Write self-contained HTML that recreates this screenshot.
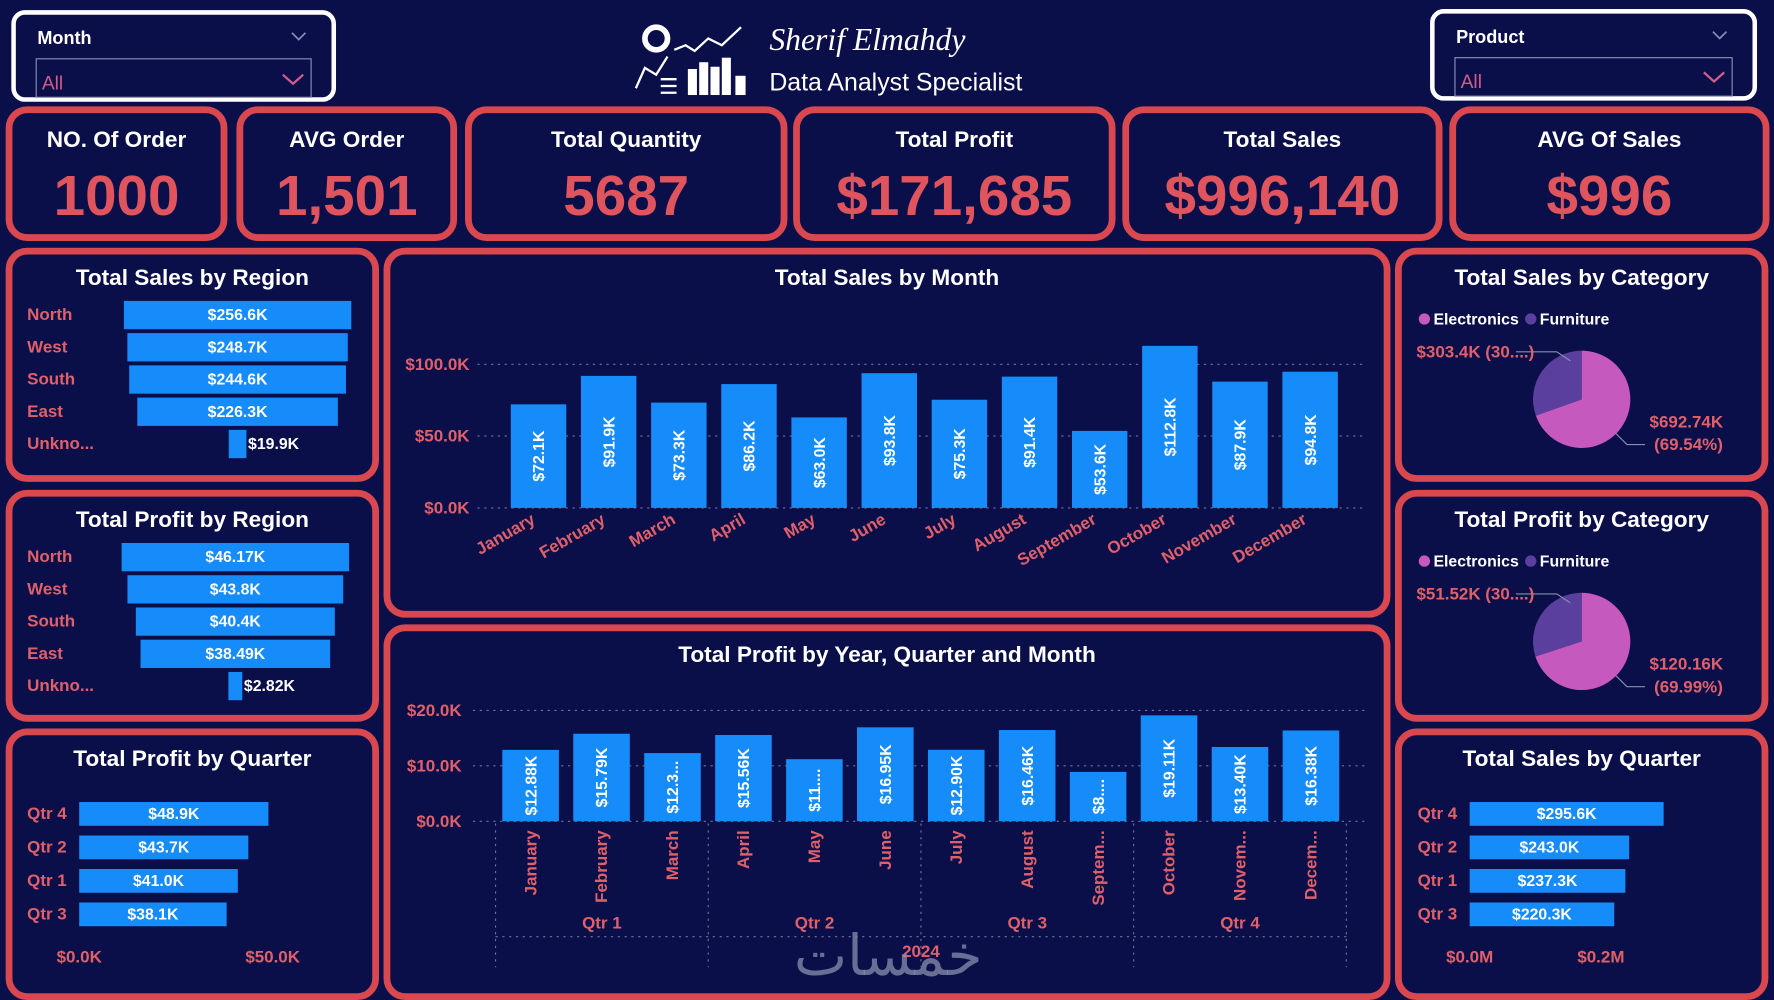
<!DOCTYPE html>
<html><head><meta charset="utf-8"><title>Sales Dashboard</title>
<style>
html,body{margin:0;padding:0;background:#0b0f49;}
svg{display:block;font-family:"Liberation Sans Narrow","Liberation Sans",sans-serif;}
.t{fill:#fff;font-weight:bold;font-size:20px;text-anchor:middle;}
.kv{fill:#e0545d;font-weight:bold;font-size:50px;text-anchor:middle;}
.lab{fill:#e0606a;font-weight:bold;font-size:15px;}
.bl{fill:#fff;font-weight:bold;font-size:14px;text-anchor:middle;}
.panel{fill:#0b0f49;stroke:#d9474f;stroke-width:6;}
.grid{stroke:#6c7099;stroke-width:1;stroke-dasharray:2 4;}
</style></head>
<body>
<svg id="dash" width="1774" height="1000" viewBox="0 0 1568 884" preserveAspectRatio="none" xmlns="http://www.w3.org/2000/svg">
<rect width="1568" height="884" fill="#0b0f49"/>
<!-- slicers -->
<g>
<rect x="12" y="11" width="283" height="77" rx="10" fill="#0b0f49" stroke="#fff" stroke-width="4"/>
<text x="33" y="39" fill="#fff" font-size="16" font-weight="bold">Month</text>
<path d="M258 29 l6 6 l6 -6" stroke="#8c90b8" fill="none" stroke-width="1.5"/>
<rect x="32" y="52" width="243" height="34" fill="none" stroke="#8c90b8" stroke-width="1"/>
<text x="37" y="79" fill="#d25c8a" font-size="17">All</text>
<path d="M250 66 l9 8 l9 -8" stroke="#d25c8a" fill="none" stroke-width="2"/>
</g>
<g>
<rect x="1266" y="10" width="285" height="77" rx="10" fill="#0b0f49" stroke="#fff" stroke-width="4"/>
<text x="1287" y="38" fill="#fff" font-size="16" font-weight="bold">Product</text>
<path d="M1514 28 l6 6 l6 -6" stroke="#8c90b8" fill="none" stroke-width="1.5"/>
<rect x="1286" y="51" width="245" height="34" fill="none" stroke="#8c90b8" stroke-width="1"/>
<text x="1291" y="78" fill="#d25c8a" font-size="17">All</text>
<path d="M1506 64 l9 8 l9 -8" stroke="#d25c8a" fill="none" stroke-width="2"/>
</g>
<!-- logo -->
<g stroke="#fff" fill="none" stroke-width="2">
<circle cx="580" cy="34" r="10" stroke-width="5"/>
<polyline points="596,44 606,40 614,45 626,34 638,40 655,24"/>
<polyline points="562,78 570,60 580,66 590,50"/>
<rect x="609" y="62" width="6" height="21" fill="#fff"/><rect x="619" y="56" width="6" height="27" fill="#fff"/><rect x="629" y="60" width="6" height="23" fill="#fff"/><rect x="639" y="52" width="6" height="31" fill="#fff"/><rect x="651" y="68" width="7" height="15" fill="#fff"/>
<line x1="584" y1="70" x2="598" y2="70"/><line x1="584" y1="76" x2="598" y2="76"/><line x1="584" y1="82" x2="598" y2="82"/>
</g>
<text x="680" y="44" fill="#fff" font-size="28" font-style="italic" font-family="Liberation Serif,serif">Sherif Elmahdy</text>
<text x="680" y="80" fill="#fff" font-size="22" font-family="Liberation Sans,sans-serif">Data Analyst Specialist</text>
<g id="kpis"></g>
<g id="panels"></g>
<g id="charts"></g>
</svg>
<script>
const NS="http://www.w3.org/2000/svg";
const root=document.getElementById('charts');
function mk(tag,attrs,parent,txt){const e=document.createElementNS(NS,tag);for(const k in attrs)e.setAttribute(k,attrs[k]);if(txt!==undefined)e.textContent=txt;(parent||root).appendChild(e);return e;}

// KPI data
const kpiTitles=["NO. Of Order","AVG Order","Total Quantity","Total Profit","Total Sales","AVG Of Sales"];
const kpiValues=["1000","1,501","5687","$171,685","$996,140","$996"];
const kpiBoxes=[[8,97,190,113],[212,97,189,113],[414,97,279,113],[704,97,279,113],[995,97,277,113],[1284,97,277,113]];
const kg=document.getElementById('kpis');
kpiTitles.forEach((t,i)=>{const b=kpiBoxes[i];const g=mk('g',{},kg);


mk('rect',{x:b[0],y:b[1],width:b[2],height:b[3],rx:16,class:'panel'},g);
mk('text',{x:b[0]+b[2]/2,y:130,class:'t'},g,t);
mk('text',{x:b[0]+b[2]/2,y:190,class:'kv'},g,kpiValues[i]);});

// panels
const panelTitles=["Total Sales by Region","Total Profit by Region","Total Profit by Quarter","Total Sales by Month","Total Profit by Year, Quarter and Month","Total Sales by Category","Total Profit by Category","Total Sales by Quarter"];
const panelBoxes=[[8,222,324,201],[8,436,324,199],[8,647,324,234],[342,222,884,321],[342,555,884,326],[1236,222,324,201],[1236,436,324,199],[1236,647,324,234]];
const pg=document.getElementById('panels');
panelTitles.forEach((t,i)=>{const b=panelBoxes[i];const g=mk('g',{},pg);


mk('rect',{x:b[0],y:b[1],width:b[2],height:b[3],rx:16,class:'panel'},g);
mk('text',{x:b[0]+b[2]/2,y:b[1]+30,class:'t'},g,t);});

// Region funnels
const regions=["North","West","South","East","Unkno..."];
const salesRegion=[256.6,248.7,244.6,226.3,19.9];
const salesRegionLabels=["$256.6K","$248.7K","$244.6K","$226.3K","$19.9K"];
const profitRegion=[46.17,43.8,40.4,38.49,2.82];
const profitRegionLabels=["$46.17K","$43.8K","$40.4K","$38.49K","$2.82K"];
function funnel(vals,labs,cx,maxW,y0,prefix){
 const mx=Math.max(...vals);
 vals.forEach((v,i)=>{const w=v/mx*maxW;const y=y0+i*28.5;
  const l=mk('text',{x:24,y:y+5,class:'lab'},undefined,regions[i]);
  
  
  const r=mk('rect',{x:cx-w/2,y:y-12,width:w,height:25,fill:'#168bfa'});
  
  
  if(w>60)mk('text',{x:cx,y:y+5,class:'bl'},undefined,labs[i]);
  else mk('text',{x:cx+w/2+24,y:y+5,class:'bl'},undefined,labs[i]);
 });
}
funnel(salesRegion,salesRegionLabels,210,201,278,'sales-region');
funnel(profitRegion,profitRegionLabels,208,201,492,'profit-region');

// quarter bars
const quarters=["Qtr 4","Qtr 2","Qtr 1","Qtr 3"];
const profitQtr=[48.9,43.7,41.0,38.1];
const profitQtrLabels=["$48.9K","$43.7K","$41.0K","$38.1K"];
const profitQtrTicks=[0,50];
const profitQtrTickLabels=["$0.0K","$50.0K"];
const salesQtr=[295.6,243.0,237.3,220.3];
const salesQtrLabels=["$295.6K","$243.0K","$237.3K","$220.3K"];
const salesQtrTicks=[0,200];
const salesQtrTickLabels=["$0.0M","$0.2M"];
function hbars(vals,labs,ticks,tlabs,x0,pxPer,lx,prefix){
 vals.forEach((v,i)=>{const y=719+i*29.6;
  mk('text',{x:lx,y:y+5,class:'lab'},undefined,quarters[i]);
  const r=mk('rect',{x:x0,y:y-10,width:v*pxPer,height:21,fill:'#168bfa'});
  
  
  mk('text',{x:x0+v*pxPer/2,y:y+5,class:'bl'},undefined,labs[i]);});
 ticks.forEach((t,i)=>{const tx=mk('text',{x:x0+t*pxPer,y:851,class:'lab','text-anchor':'middle','font-size':14},undefined,tlabs[i]);
  
  });
}
hbars(profitQtr,profitQtrLabels,profitQtrTicks,profitQtrTickLabels,70,3.42,24,'profit-quarter');
hbars(salesQtr,salesQtrLabels,salesQtrTicks,salesQtrTickLabels,1299,0.58,1253,'sales-quarter');

// Sales by month
const months=["January","February","March","April","May","June","July","August","September","October","November","December"];
const salesMonth=[72.1,91.9,73.3,86.2,63.0,93.8,75.3,91.4,53.6,112.8,87.9,94.8];
const salesMonthLabels=["$72.1K","$91.9K","$73.3K","$86.2K","$63.0K","$93.8K","$75.3K","$91.4K","$53.6K","$112.8K","$87.9K","$94.8K"];
const salesTicks=[0,50,100];
const salesTickLabels=["$0.0K","$50.0K","$100.0K"];
const ys=v=>449-v*1.27, xs=i=>476+i*62;
salesTicks.forEach((t,i)=>{mk('line',{x1:422,x2:1205,y1:ys(t),y2:ys(t),class:'grid'});
 mk('text',{x:415,y:ys(t)+5,class:'lab','text-anchor':'end','font-size':14},undefined,salesTickLabels[i]);});
salesMonth.forEach((v,i)=>{const x=xs(i);
 const r=mk('rect',{x:x-24.5,y:ys(v),width:49,height:449-ys(v),fill:'#168bfa'});
 
 
 mk('text',{x:0,y:0,class:'bl',transform:`translate(${x+5},${ys(v)+(449-ys(v))/2}) rotate(-90)`},undefined,salesMonthLabels[i]);
 mk('text',{x:0,y:0,class:'lab','text-anchor':'end','font-size':14,transform:`translate(${x-2},${462}) rotate(-30)`},undefined,months[i]);});

// Profit by month
const profitMonth=[12.88,15.79,12.3,15.56,11.2,16.95,12.90,16.46,8.9,19.11,13.40,16.38];
const profitMonthLabels=["$12.88K","$15.79K","$12.3...","$15.56K","$11....","$16.95K","$12.90K","$16.46K","$8....","$19.11K","$13.40K","$16.38K"];
const profitMonthNames=["January","February","March","April","May","June","July","August","Septem...","October","Novem...","Decem..."];
const profitTicks=[0,10,20];
const profitTickLabels=["$0.0K","$10.0K","$20.0K"];
const qtrNames=["Qtr 1","Qtr 2","Qtr 3","Qtr 4"];
const yp=v=>726-v*4.9, xp=i=>469+i*62.7;
profitTicks.forEach((t,i)=>{mk('line',{x1:418,x2:1210,y1:yp(t),y2:yp(t),class:'grid'});
 mk('text',{x:408,y:yp(t)+5,class:'lab','text-anchor':'end','font-size':14},undefined,profitTickLabels[i]);});
[438,626,814,1002,1190].forEach(x=>mk('line',{x1:x,x2:x,y1:728,y2:855,class:'grid'}));
mk('line',{x1:438,x2:1190,y1:828,y2:828,class:'grid'});
profitMonth.forEach((v,i)=>{const x=xp(i);
 const r=mk('rect',{x:x-25,y:yp(v),width:50,height:726-yp(v),fill:'#168bfa'});
 
 
 mk('text',{x:0,y:0,class:'bl',transform:`translate(${x+5},${yp(v)+(726-yp(v))/2}) rotate(-90)`},undefined,profitMonthLabels[i]);
 mk('text',{x:0,y:0,class:'lab','text-anchor':'end','font-size':14,transform:`translate(${x+5},${734}) rotate(-90)`},undefined,profitMonthNames[i]);});
qtrNames.forEach((q,i)=>mk('text',{x:532+i*188,y:821,class:'lab','text-anchor':'middle','font-size':15},undefined,q));
mk('text',{x:814,y:846,class:'lab','text-anchor':'middle','font-size':15},undefined,'2024');
const wm=mk('text',{x:785,y:862,fill:'#8a8fae','fill-opacity':0.75,'font-size':50,'text-anchor':'middle','font-family':'"DejaVu Sans",sans-serif'},undefined,'خمسات');



// Pies
const categories=["Electronics","Furniture"];
const catColors=["#c659bd","#5b3f9f"];
const salesCat=[692.74,303.4];
const salesCatLabels=["$692.74K","(69.54%)","$303.4K (30....)"];
const profitCat=[120.16,51.52];
const profitCatLabels=["$120.16K","(69.99%)","$51.52K (30....)"];
function pie(vals,labs,top,prefix){
 const cx=1398,cy=top+131,r=43;
 let lx=1254;
 categories.forEach((c,i)=>{mk('circle',{cx:lx+5,cy:top+60,r:5,fill:catColors[i]});
  mk('text',{x:lx+13,y:top+65,fill:'#fff','font-size':14,'font-weight':'bold'},undefined,c);lx+=94;});
 const tot=vals[0]+vals[1];let a=-Math.PI/2;
 vals.forEach((v,i)=>{const a2=a+v/tot*2*Math.PI;const large=(a2-a)>Math.PI?1:0;
  const p=mk('path',{d:`M${cx},${cy} L${cx+r*Math.cos(a)},${cy+r*Math.sin(a)} A${r},${r} 0 ${large} 1 ${cx+r*Math.cos(a2)},${cy+r*Math.sin(a2)} Z`,fill:catColors[i]});
  
  
  a=a2;});
 mk('polyline',{points:`${cx+30},${cy+30} ${cx+40},${cy+40} ${cx+56},${cy+40}`,stroke:'#8a8fae',fill:'none'});
 mk('polyline',{points:`1340,${cy-42} ${cx-22},${cy-42} ${cx-10},${cy-34}`,stroke:'#8a8fae',fill:'none'});
 mk('text',{x:1458,y:cy+25,class:'lab','font-size':14},undefined,labs[0]);
 mk('text',{x:1462,y:cy+45,class:'lab','font-size':14},undefined,labs[1]);
 mk('text',{x:1252,y:cy-37,class:'lab','font-size':14},undefined,labs[2]);
}
pie(salesCat,salesCatLabels,222,'sales-category');
pie(profitCat,profitCatLabels,436,'profit-category');
</script>
</body></html>
